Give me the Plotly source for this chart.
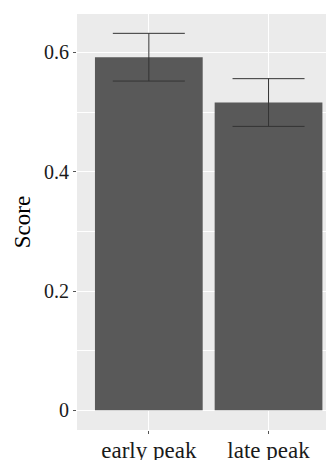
import plotly.graph_objects as go

# Mean score per peak-timing group, with error half-widths
groups = ["early peak", "late peak"]
scores = [0.592, 0.516]
errors = [0.040, 0.040]

y_ticks = [0, 0.2, 0.4, 0.6]
y_tick_text = ["0", "0.2", "0.4", "0.6"]

SERIF = "Liberation Serif"

fig = go.Figure(
    go.Bar(
        x=groups,
        y=scores,
        width=0.9,
        marker=dict(color="#595959", line=dict(width=0)),
        error_y=dict(type="data", array=errors, color="#333333", thickness=1, width=36),
    )
)

fig.update_layout(
    width=326,
    height=460,
    margin=dict(l=77, r=0, t=14, b=30),
    paper_bgcolor="white",
    plot_bgcolor="#EBEBEB",
    showlegend=False,
    font=dict(family=SERIF, color="#1a1a1a"),
)

fig.update_xaxes(
    range=[-0.6, 1.48],
    automargin=False,
    showgrid=True, gridcolor="white", gridwidth=1.1,
    ticks="outside", ticklen=3, tickwidth=1, tickcolor="#555555",
    ticklabelstandoff=-4,
    tickfont=dict(size=23, family=SERIF, color="#1a1a1a"),
    zeroline=False, showline=False,
)

fig.update_yaxes(
    range=[-0.0330, 0.6644],
    automargin=False,
    tickvals=y_ticks, ticktext=y_tick_text,
    showgrid=True, gridcolor="white", gridwidth=1.1,
    minor=dict(dtick=0.1, tick0=0, showgrid=True, gridcolor="white", gridwidth=0.5),
    ticks="outside", ticklen=3, tickwidth=1, tickcolor="#555555",
    tickfont=dict(size=20, family=SERIF, color="#1a1a1a"),
    zeroline=False, showline=False,
    title=dict(text="Score", font=dict(size=23, family=SERIF, color="#000000"), standoff=6),
)

fig.write_html("out.html")
